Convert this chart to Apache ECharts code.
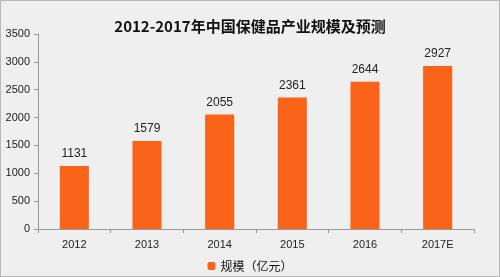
<!DOCTYPE html>
<html><head><meta charset="utf-8">
<script src="https://cdn.jsdelivr.net/npm/echarts@6/dist/echarts.min.js"></script>
<style>html,body{margin:0;padding:0;background:#efefef}#c{width:500px;height:277px;box-sizing:border-box;border:1px solid #b8b8b8}</style>
</head><body><div id="c"></div>
<script>
var categories = ['2012','2013','2014','2015','2016','2017E'];
var values = [1131,1579,2055,2361,2644,2927];
var yTicks = [0,500,1000,1500,2000,2500,3000,3500];
var chart = echarts.init(document.getElementById('c'));
chart.setOption({
  backgroundColor:'#efefef',
  animation:false,
  title:{text:'2012-2017年中国保健品产业规模及预测',left:'center',top:13,
    textStyle:{fontFamily:'"Noto Sans CJK SC", serif',fontSize:15,fontWeight:'bold',color:'#111'}},
  legend:{data:['规模（亿元）'],top:254,left:'center',itemWidth:8,itemHeight:8,itemGap:4,
    textStyle:{fontFamily:'"Noto Sans CJK SC"',fontSize:12,color:'#111'}},
  grid:{left:37,right:25,top:33,bottom:47},
  xAxis:{type:'category',data:categories,
    axisLine:{lineStyle:{color:'#999'}},
    axisTick:{show:true,alignWithLabel:false,length:4,lineStyle:{color:'#999'}},
    axisLabel:{fontFamily:'"Liberation Sans", Arial',fontSize:11,color:'#222',margin:10}},
  yAxis:{type:'value',min:yTicks[0],max:yTicks[yTicks.length-1],interval:500,
    axisLine:{show:true,lineStyle:{color:'#999'}},
    axisTick:{show:true,length:4,lineStyle:{color:'#999'}},
    splitLine:{show:false},
    axisLabel:{fontFamily:'"Liberation Sans", Arial',fontSize:11,color:'#222',margin:8,
      formatter:function(v){return String(v);}}},
  series:[{name:'规模（亿元）',type:'bar',data:values,barWidth:'40%',
    itemStyle:{color:'#fa6419'},
    label:{show:true,position:'top',distance:6,fontFamily:'"Liberation Sans", Arial',fontSize:12,color:'#222'}}]
});
</script></body></html>
